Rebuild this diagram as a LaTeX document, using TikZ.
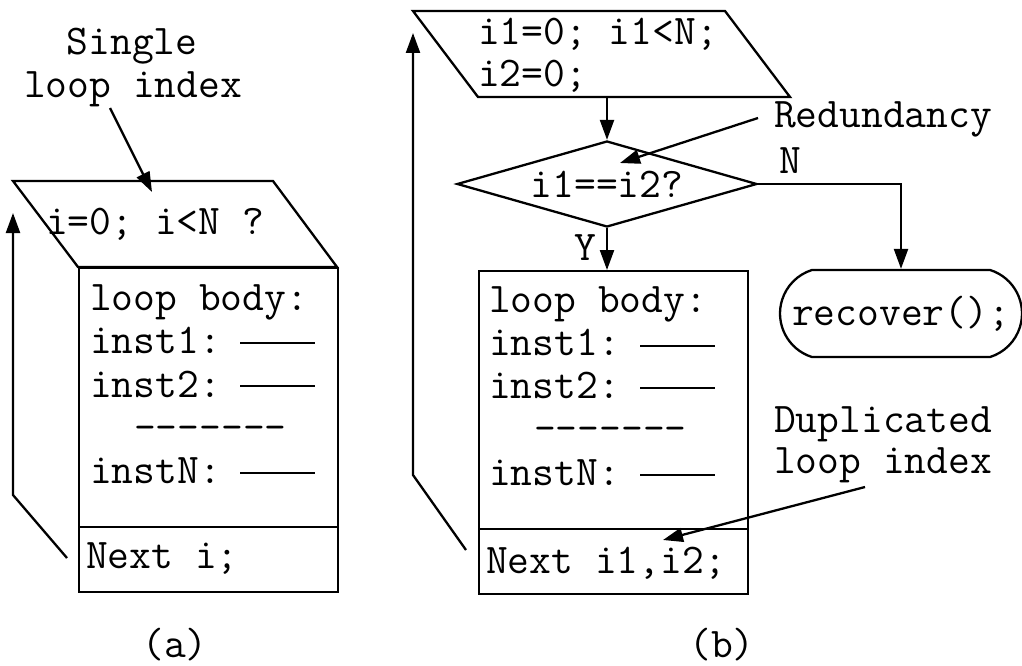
\documentclass[tikz,border=0pt]{standalone}
\usepackage{fontspec}
\usetikzlibrary{arrows.meta,shapes.geometric,shapes.misc}
\newcommand\codefont{\ttfamily\fontsize{42.3}{43}\selectfont}
\begin{document}
\begin{tikzpicture}[x=1pt,y=-1pt,
  line width=2.3pt, line join=miter,
  txt/.style={inner sep=0pt, anchor=base west, font=\codefont},
  ctxt/.style={txt, anchor=base},
  arr/.style={-{Triangle[length=20pt,width=14pt]}},
  frame/.style={draw, line width=2.3pt},
  rule/.style={line width=2.3pt},
]
\useasboundingbox (0,0) rectangle (1022,666);

% ---------- (a) single loop index ----------
\node[ctxt] (sa1) at (132,55) {Single};
\node[ctxt] (sa2) at (133,98) {loop index};

\draw[frame] (13,181) coordinate (pa-nw) -- (273,181) coordinate (pa-ne)
  -- (337,267) coordinate (pa-se) -- (78,267) coordinate (pa-sw) -- cycle;
\node[txt] (conda) at (45,234) {i=0; i<N ?};

\node[frame, minimum width=259pt, minimum height=324pt, inner sep=0pt,
  anchor=north west] (bodya) at (78,267) {};
\draw[rule] (78,527) -- (337,527);

\node[txt] (la0) at (89,310) {loop body:};
\node[txt] (la1) at (89,353) {inst1:};
\node[txt] (la2) at (89,397) {inst2:};
\node[txt] (la3) at (133,440) {-{}-{}-{}-{}-{}-{}-};
\node[txt] (la4) at (89,483) {instN:};
\draw[rule] (240,343) -- (315,343);
\draw[rule] (240,386) -- (315,386);
\draw[rule] (240,473) -- (315,473);
\node[txt] (nexta) at (85,568) {Next i;};

\coordinate (sa-from) at (110,108);
\coordinate (sa-tip) at (152,192);
\draw[arr] (sa-from) -- (sa-tip);

\coordinate (fa1) at (67,558);
\coordinate (fa2) at (13,495);
\coordinate (fa3) at (13,213);
\draw[arr] (fa1) -- (fa2) -- (fa3);

\node[ctxt] (capa) at (175,657) {(a)};

% ---------- (b) duplicated loop index ----------
\draw[frame] (413,11) coordinate (pb-nw) -- (725,11) coordinate (pb-ne)
  -- (790,97) coordinate (pb-se) -- (478,97) coordinate (pb-sw) -- cycle;
\coordinate (pb-s) at (607,97);
\node[txt] (condb1) at (477,45) {i1=0; i1<N;};
\node[txt] (condb2) at (477,87) {i2=0;};

\node[frame, diamond, aspect=3.49, minimum width=300pt, minimum height=86pt,
  inner sep=0pt, font=\codefont] (dec) at (607,184) {i1==i2?};

\node[frame, minimum width=269pt, minimum height=323pt, inner sep=0pt,
  anchor=north west] (bodyb) at (478,270) {};
\draw[rule] (478,529) -- (747,529);

\node[txt] (lb0) at (488,312) {loop body:};
\node[txt] (lb1) at (488,355) {inst1:};
\node[txt] (lb2) at (488,398) {inst2:};
\node[txt] (lb3) at (533,441) {-{}-{}-{}-{}-{}-{}-};
\node[txt] (lb4) at (488,485) {instN:};
\draw[rule] (640,346) -- (715,346);
\draw[rule] (640,388) -- (715,388);
\draw[rule] (640,475) -- (715,475);
\node[txt] (nextb) at (485,573) {Next i1,i2;};

\node[frame, rounded rectangle, rounded rectangle arc length=145,
  minimum width=242pt, minimum height=87pt, inner sep=0pt,
  font=\codefont] (rec) at (901,313.5) {recover();};

\draw[arr] (pb-s) -- (dec.north);
\draw[arr] (dec.south) -- (dec.south |- bodyb.north);
\draw[arr] (dec.east) -| (rec.north);
\node[ctxt] (ylab) at (585,260) {Y};
\node[ctxt] (nlab) at (790,173) {N};

\node[txt] (red) at (773,128) {Redundancy};
\coordinate (red-from) at (758,118);
\coordinate (red-tip) at (620,163);
\draw[arr] (red-from) -- (red-tip);

\node[txt] (dup1) at (773,432) {Duplicated};
\node[txt] (dup2) at (773,473) {loop index};
\coordinate (dup-from) at (865,487);
\coordinate (dup-tip) at (663,540);
\draw[arr] (dup-from) -- (dup-tip);

\coordinate (fb1) at (466,550);
\coordinate (fb2) at (413,475);
\coordinate (fb3) at (413,33);
\draw[arr] (fb1) -- (fb2) -- (fb3);

\node[ctxt] (capb) at (722,657) {(b)};
\end{tikzpicture}
\end{document}
